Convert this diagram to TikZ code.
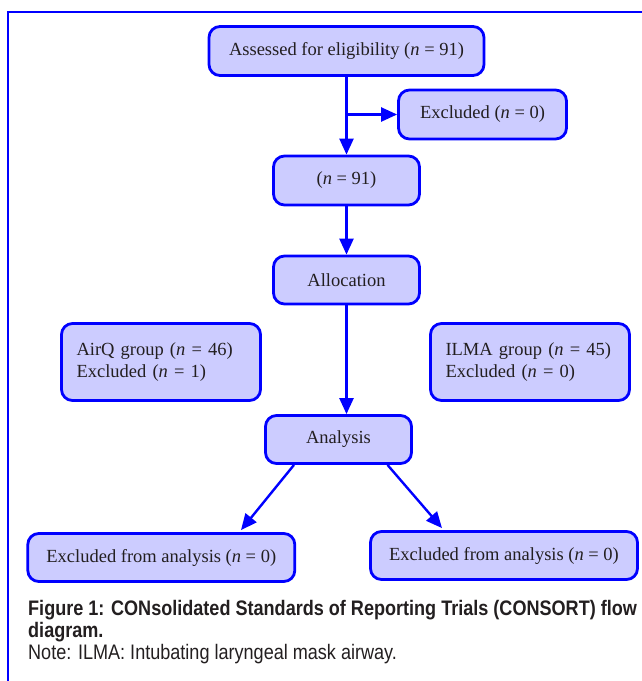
\documentclass[tikz,border=0pt]{standalone}
\usepackage{fontspec}
\setmainfont{Liberation Serif}
\newfontfamily\capfont{Liberation Sans}[FakeStretch=0.86]
\usetikzlibrary{arrows.meta,calc}
\definecolor{fr}{RGB}{0,0,255}
\definecolor{bx}{RGB}{204,204,255}
\definecolor{tx}{RGB}{35,31,32}
\begin{document}
\begin{tikzpicture}[x=1pt,y=1pt,
  box/.style={draw=fr, fill=bx, line width=2.8pt, rounded corners=11pt, text=tx,
    font=\fontsize{18.5}{22}\selectfont, inner sep=0pt, align=center},
  arr/.style={draw=fr, line width=2.4pt, -{Triangle[length=16pt,width=14pt]}},
  captext/.style={anchor=base west, inner sep=0pt, text=tx, font=\capfont\fontsize{21}{22}\selectfont}]
\useasboundingbox (0,0) rectangle (641,-681);
\fill[white] (0,0) rectangle (641,-681);
\draw[fr, line width=2pt] (8,-690) -- (8,-12) -- (650,-12);
\node[box, minimum width=275pt, minimum height=49pt] (a) at (346.5,-51) {Assessed for eligibility (\textit{n} = 91)};
\node[box, minimum width=168pt, minimum height=49pt] (ex) at (482.5,-114.5) {Excluded (\textit{n} = 0)};
\node[box, minimum width=146pt, minimum height=49pt] (n) at (346.5,-180.5) {(\textit{n} = 91)};
\node[box, minimum width=146pt, minimum height=48pt] (al) at (346.5,-280) {Allocation};
\node[box, minimum width=199pt, minimum height=77pt, text width=169pt, align=left] (aq) at (161,-362) {AirQ group (\textit{n} = 46)\\Excluded (\textit{n} = 1)};
\node[box, minimum width=199pt, minimum height=77pt, text width=169pt, align=left] (il) at (530,-362) {ILMA group (\textit{n} = 45)\\Excluded (\textit{n} = 0)};
\node[box, minimum width=146pt, minimum height=48pt] (an) at (338.5,-439.5) {Analysis};
\node[box, minimum width=267pt, minimum height=48pt] (bl) at (161.3,-557.5) {Excluded from analysis (\textit{n} = 0)};
\node[box, minimum width=267pt, minimum height=48pt] (br) at (504,-555.5) {Excluded from analysis (\textit{n} = 0)};
\coordinate (j) at (a.south |- ex.west);
\draw[arr] (a.south) -- (n.north);
\draw[arr] (j) -- (ex.west);
\draw[arr] (n.south) -- (al.north);
\draw[arr] (al.south) -- (al.south |- an.north);
\draw[arr] ([xshift=-44.5pt]an.south) -- ([xshift=79.7pt,yshift=2pt]bl.north);
\draw[arr] ([xshift=49pt]an.south) -- ([xshift=-62pt,yshift=2pt]br.north);
\node[captext, font=\capfont\bfseries\fontsize{21}{22}\selectfont] (c1) at (28,-615) {Figure 1: CONsolidated Standards of Reporting Trials (CONSORT) flow};
\node[captext, font=\capfont\bfseries\fontsize{21}{22}\selectfont] (c2) at (28,-637) {diagram.};
\node[captext] (c3) at (28,-659) {Note: ILMA: Intubating laryngeal mask airway.};
\end{tikzpicture}
\end{document}
